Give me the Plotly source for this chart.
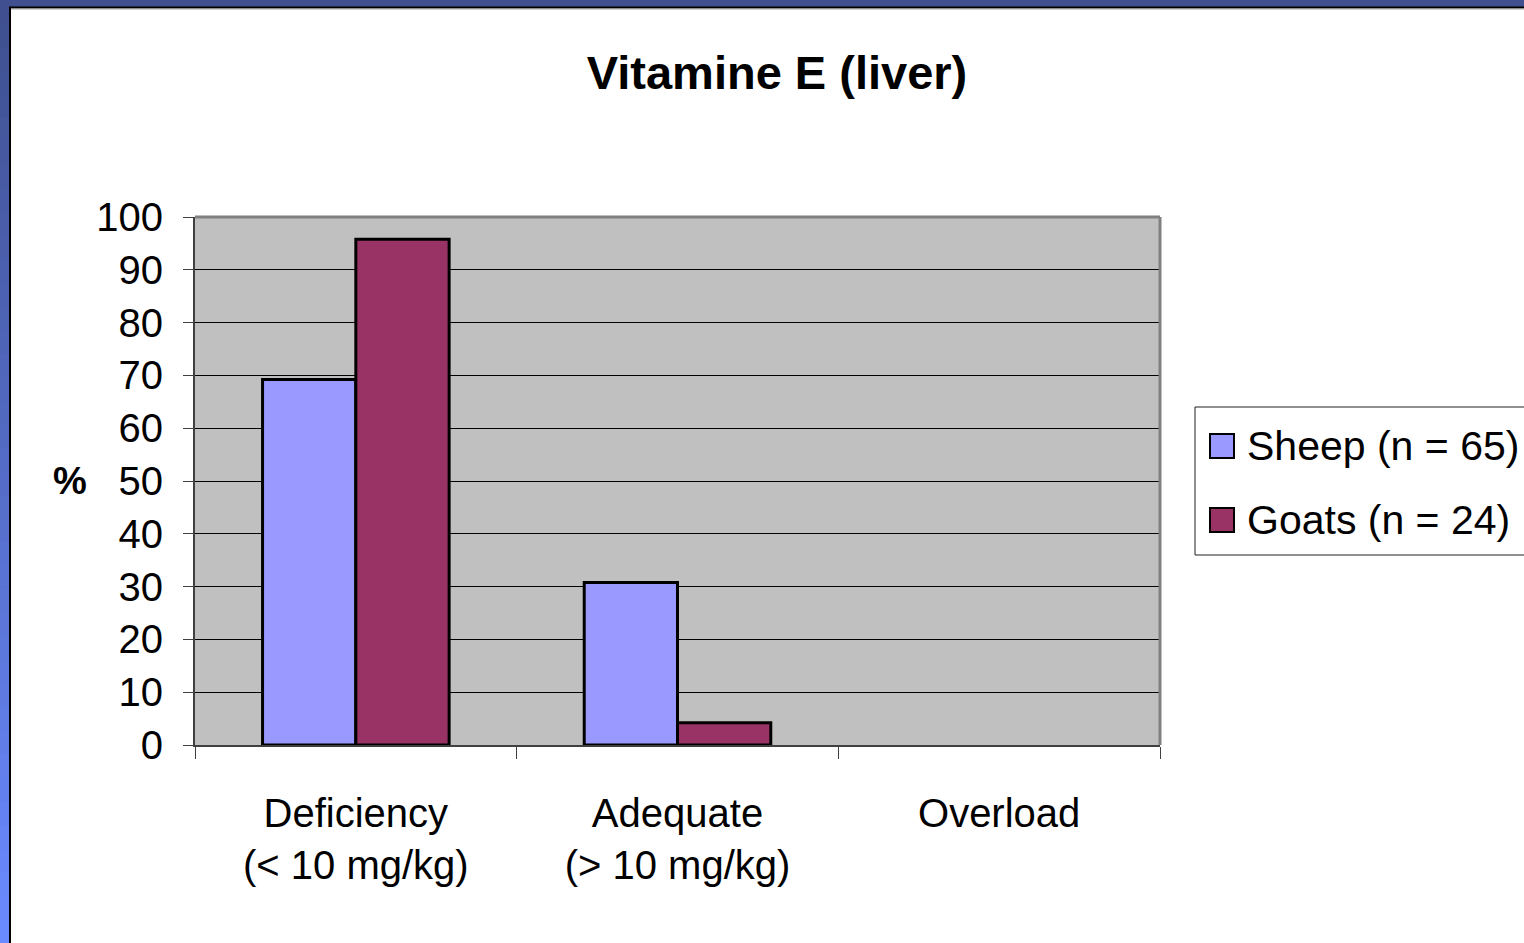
import plotly.graph_objects as go

categories = ["Deficiency<br>(&lt; 10 mg/kg)", "Adequate<br>(&gt; 10 mg/kg)", "Overload"]
series_names = ["Sheep (n = 65)", "Goats (n = 24)"]
sheep_values = [69.2, 30.8, 0]
goats_values = [95.8, 4.2, 0]
series_colors = ["#9999ff", "#993366"]
y_tick_values = list(range(0, 101, 10))
y_axis_label = "%"
title_text = "Vitamine E (liver)"

W, H = 1524, 943
L, R, T, B = 195, 1160, 217, 745


def px(x):
    return (x - L) / (R - L)


def py(y):
    return (B - y) / (B - T)


FONT = "Liberation Sans, Arial, sans-serif"

fig = go.Figure()
for name, vals, col in zip(series_names, [sheep_values, goats_values], series_colors):
    fig.add_trace(go.Bar(
        x=categories, y=vals, name=name,
        marker=dict(color=col, line=dict(color="black", width=[3 if v > 0 else 0 for v in vals])),
        showlegend=False, hoverinfo="skip",
    ))

shapes = []
# slide background strips (gradient on left)
top_c = (0x3f, 0x4f, 0x8f)
bot_c = (0x6a, 0x8a, 0xff)
n = 40
for i in range(n):
    t = i / (n - 1)
    c = tuple(round(a + (b - a) * t) for a, b in zip(top_c, bot_c))
    y0 = H * i / n
    y1 = H * (i + 1) / n + 1
    shapes.append(dict(type="rect", xref="paper", yref="paper",
                       x0=px(0), x1=px(9), y0=py(y0), y1=py(y1),
                       fillcolor="rgb(%d,%d,%d)" % c, line=dict(width=0), layer="above"))
shapes.append(dict(type="rect", xref="paper", yref="paper",
                   x0=px(0), x1=px(W), y0=py(0), y1=py(7),
                   fillcolor="rgb(63,79,143)", line=dict(width=0), layer="above"))
shapes.append(dict(type="line", xref="paper", yref="paper",
                   x0=px(9), x1=px(W), y0=py(7.5), y1=py(7.5),
                   line=dict(color="black", width=2), layer="above"))
shapes.append(dict(type="line", xref="paper", yref="paper",
                   x0=px(10), x1=px(W), y0=py(9), y1=py(9),
                   line=dict(color="#a0a0a0", width=1), layer="above"))
shapes.append(dict(type="line", xref="paper", yref="paper",
                   x0=px(10), x1=px(10), y0=py(7), y1=py(H),
                   line=dict(color="black", width=2), layer="above"))
# plot frame top/right in gray
shapes.append(dict(type="line", xref="paper", yref="paper", x0=0, x1=1, y0=1, y1=1,
                   line=dict(color="#808080", width=3), layer="above"))
shapes.append(dict(type="line", xref="paper", yref="paper", x0=1, x1=1, y0=0, y1=1,
                   line=dict(color="#808080", width=3), layer="above"))
# manual legend
shapes.append(dict(type="rect", xref="paper", yref="paper",
                   x0=px(1195), x1=px(1540), y0=py(407), y1=py(555),
                   fillcolor="white", line=dict(color="#202020", width=1)))
annotations = []
legend_rows = [446, 520]
for name, col, yc in zip(series_names, series_colors, legend_rows):
    shapes.append(dict(type="rect", xref="paper", yref="paper",
                       x0=px(1210), x1=px(1234), y0=py(yc - 12), y1=py(yc + 12),
                       fillcolor=col, line=dict(color="black", width=2)))
    annotations.append(dict(text=name, xref="paper", yref="paper", x=px(1245), y=py(yc),
                            xanchor="left", yanchor="middle", showarrow=False,
                            font=dict(size=41, color="black", family=FONT)))

annotations.append(dict(text="<b>%s</b>" % y_axis_label, xref="paper", yref="y",
                        x=px(70), y=50, xanchor="center", yanchor="middle", showarrow=False,
                        font=dict(size=38, color="black", family=FONT)))

fig.update_layout(
    width=W, height=H,
    margin=dict(l=L, r=W - R, t=T, b=H - B),
    paper_bgcolor="white", plot_bgcolor="#c0c0c0",
    title=dict(text="<b>%s</b>" % title_text, x=777 / W, xref="container", xanchor="center",
               y=1 - 73 / H, yref="container", yanchor="middle",
               font=dict(size=47, color="black", family=FONT)),
    barmode="group", bargap=0.42, bargroupgap=0,
    shapes=shapes, annotations=annotations,
    font=dict(family=FONT, color="black"),
    showlegend=False,
)
fig.update_xaxes(
    type="category",
    tickson="boundaries", ticks="outside", ticklen=12, tickwidth=1, tickcolor="#404040",
    showline=True, linecolor="#404040", linewidth=2, showgrid=False, zeroline=False,
    tickfont=dict(size=40, color="black", family=FONT), ticklabelstandoff=32,
)
fig.update_yaxes(
    range=[0, 100], tickmode="array", tickvals=y_tick_values,
    ticks="outside", ticklen=10, tickwidth=1, tickcolor="#404040",
    showline=True, linecolor="#404040", linewidth=2,
    showgrid=True, gridcolor="black", gridwidth=1, zeroline=False,
    tickfont=dict(size=40, color="black", family=FONT), ticklabelstandoff=12,
)

fig.write_html("out.html", config={"displayModeBar": False},
               post_script="document.body.style.margin='0';document.body.style.overflow='hidden';")
